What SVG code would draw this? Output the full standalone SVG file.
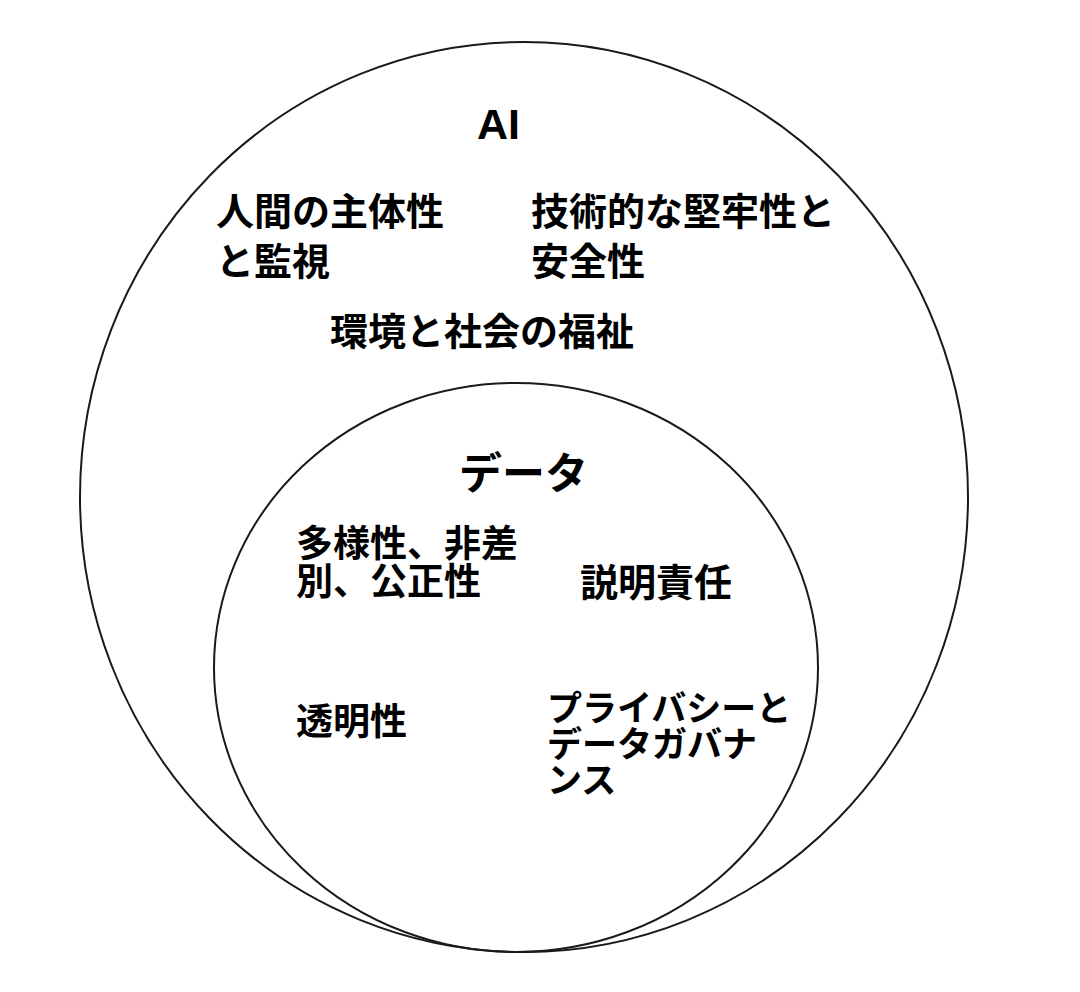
<svg xmlns="http://www.w3.org/2000/svg" width="1080" height="992" viewBox="0 0 1080 992">
<style>
.ring{fill:none;stroke:#1a1a1a;stroke-width:2}
.t{font-family:"Noto Sans CJK JP","Noto Sans CJK SC",sans-serif;font-weight:bold;font-size:38px;fill:#000}
.s{font-family:"Noto Sans CJK JP","Noto Sans CJK SC",sans-serif;font-weight:bold;font-size:37px;fill:#000}
.k{font-family:"Noto Sans CJK JP","Noto Sans CJK SC",sans-serif;font-weight:bold;font-size:35px;fill:#000}
.h{font-family:"Noto Sans CJK JP","Noto Sans CJK SC",sans-serif;font-weight:bold;font-size:43px;fill:#000}
.en{font-family:"Liberation Sans",Arial,sans-serif;font-weight:bold;font-size:43px;fill:#000}
</style>
<rect width="1080" height="992" fill="#fff"/>
<g id="ai">
<ellipse class="ring" cx="524" cy="497" rx="444" ry="455"/>
<text class="en" x="477" y="139">AI</text>
<text class="t" x="216" y="225">人間の主体性</text>
<text class="t" x="216" y="275">と監視</text>
<text class="t" x="531" y="225">技術的な堅牢性と</text>
<text class="t" x="531" y="275">安全性</text>
<text class="t" x="330" y="345">環境と社会の福祉</text>
</g>
<g id="data">
<ellipse class="ring" cx="516" cy="667.5" rx="302" ry="284.5"/>
<text class="h" x="523.5" y="489" text-anchor="middle">データ</text>
<text class="s" x="296" y="557">多様性、非差</text>
<text class="s" x="296" y="595">別、公正性</text>
<text class="t" x="580" y="596">説明責任</text>
<text class="s" x="296" y="735">透明性</text>
<text class="k" x="547" y="721">プライバシーと</text>
<text class="k" x="547" y="757">データガバナ</text>
<text class="k" x="547" y="793">ンス</text>
</g>
<g id="connectors"></g>
</svg>
